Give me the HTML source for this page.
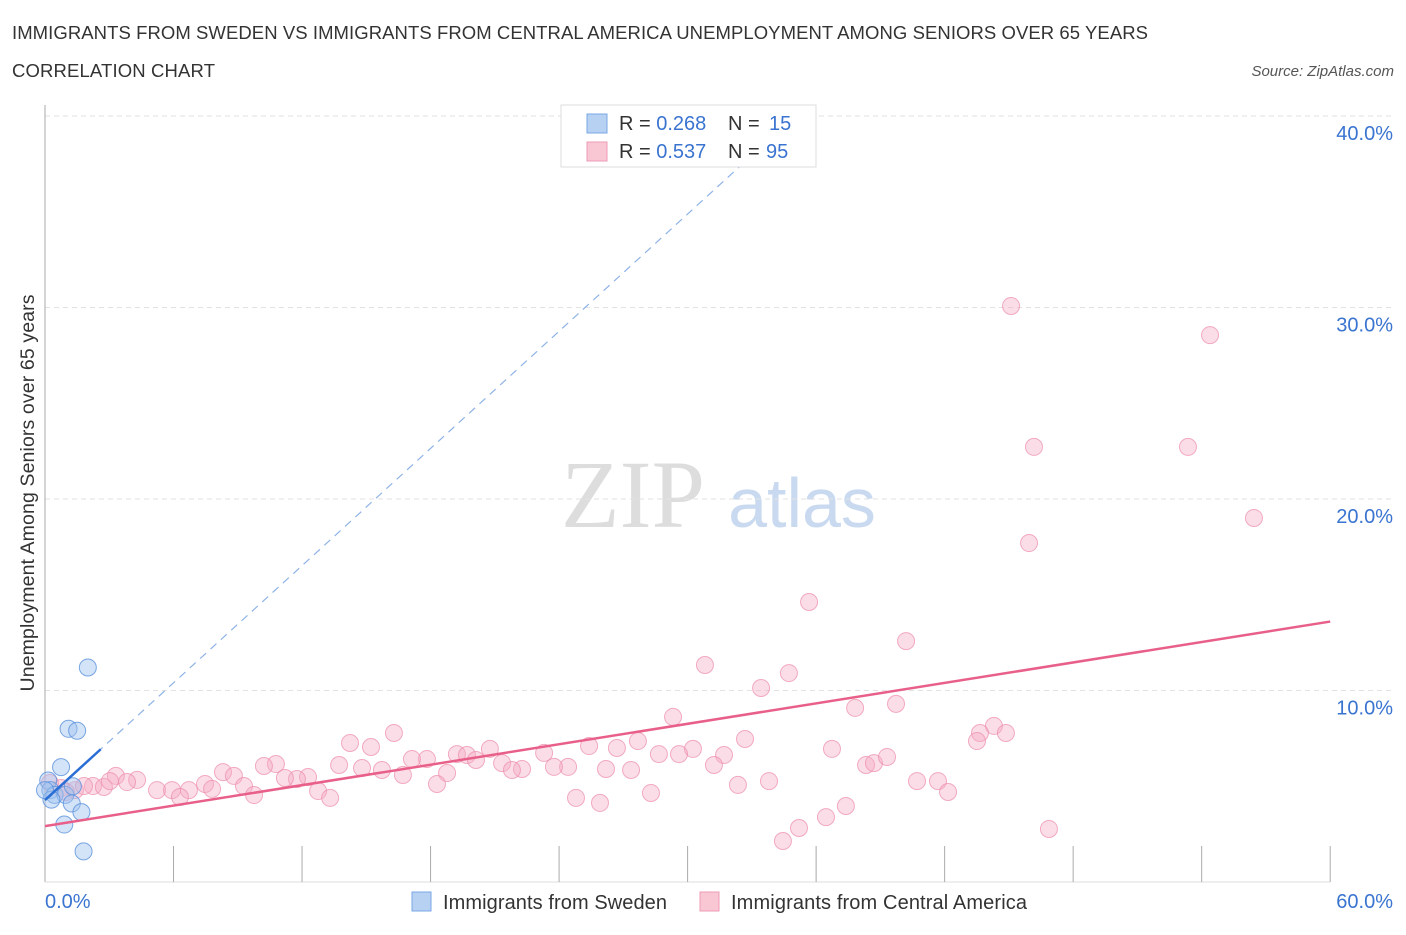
<!DOCTYPE html>
<html><head><meta charset="utf-8"><style>
body{margin:0;background:#fff;font-family:"Liberation Sans",sans-serif}
</style></head><body>
<svg id="c" width="1406" height="930" xmlns="http://www.w3.org/2000/svg">
<text x="12" y="39" font-size="18.5" fill="#333" textLength="1136">IMMIGRANTS FROM SWEDEN VS IMMIGRANTS FROM CENTRAL AMERICA UNEMPLOYMENT AMONG SENIORS OVER 65 YEARS</text>
<text x="12" y="77" font-size="18.5" fill="#333" textLength="203">CORRELATION CHART</text>
<text x="1394" y="76" font-size="15" fill="#555" font-style="italic" text-anchor="end">Source: ZipAtlas.com</text>
<text x="633" y="527" font-size="96" fill="#ddd" font-family="Liberation Serif,serif" text-anchor="middle">ZIP</text>
<text x="802" y="527" font-size="70" fill="#c9daf0" text-anchor="middle">atlas</text>
<text transform="translate(34,493) rotate(-90)" font-size="19.5" fill="#333" text-anchor="middle" textLength="397">Unemployment Among Seniors over 65 years</text>
<g id="grid"></g><g id="marks"></g>
<g>
<rect x="561" y="105" width="255" height="62" fill="#fff" stroke="#ddd"/>
<rect x="587" y="114" width="20" height="19" fill="#b7d1f3" stroke="#7aa7e3"/>
<rect x="587" y="142" width="20" height="19" fill="#f9c6d4" stroke="#ee9bb4"/>
<text x="619" y="130" font-size="20" fill="#333">R = <tspan fill="#3a74d0">0.268</tspan><tspan x="728">N = </tspan><tspan x="769" fill="#3a74d0">15</tspan></text>
<text x="619" y="158" font-size="20" fill="#333">R = <tspan fill="#3a74d0">0.537</tspan><tspan x="728">N = </tspan><tspan x="766" fill="#3a74d0">95</tspan></text>
</g>
<g>
<rect x="412" y="892" width="19" height="19" fill="#b7d1f3" stroke="#7aa7e3"/>
<text x="443" y="909" font-size="20" fill="#333" textLength="224">Immigrants from Sweden</text>
<rect x="700" y="892" width="19" height="19" fill="#f9c6d4" stroke="#ee9bb4"/>
<text x="731" y="909" font-size="20" fill="#333" textLength="296">Immigrants from Central America</text>
</g>
</svg>
<script>
const xTicks=[0,60];
const yTicks=[10,20,30,40];
const swedenX=[2.0,1.1,1.5,0.75,0.15,0.25,0.45,0.95,1.3,0.3,1.25,1.7,0.9,1.8,0];
const swedenY=[11.2,8.0,7.9,6.0,5.3,4.8,4.55,4.55,5.0,4.3,4.1,3.65,3.0,1.6,4.8];
const camPx=[[1011,306],[1210,335],[1034,447],[1188,447],[1254,518],[1029,543],[809,602],[906,641],[705,665],[789,673],[761,688],[673,717],[855,708],[896,704],[994,726],[1006,733],[980,733],[977,741],[745,739],[394,733],[350,743],[371,747],[638,741],[617,748],[589,746],[544,753],[490,749],[457,754],[467,755],[476,760],[502,763],[427,759],[412,759],[276,764],[264,766],[223,772],[116,776],[832,749],[724,755],[693,749],[659,754],[679,754],[714,765],[631,770],[606,769],[568,767],[554,767],[522,769],[512,770],[447,773],[403,775],[382,770],[362,768],[339,765],[308,777],[297,779],[285,778],[234,776],[205,784],[137,780],[127,782],[93,786],[104,787],[157,790],[172,790],[189,790],[212,789],[244,786],[254,795],[318,791],[330,798],[180,797],[866,765],[874,763],[887,757],[769,781],[738,785],[917,781],[938,781],[948,792],[651,793],[437,784],[576,798],[600,803],[846,806],[826,817],[799,828],[783,841],[1049,829],[61,788],[75,790],[84,786],[50,783],[66,792],[110,781]];
const camX=camPx.map(p=>+((p[0]-45)/21.42).toFixed(2));
const camY=camPx.map(p=>+((882-p[1])/19.15).toFixed(2));
const swedenFit=[4.28,1.02];
const camFit=[2.92,0.178];
const X=v=>45+v*21.42, Y=v=>882-v*19.15;
const NS='http://www.w3.org/2000/svg';
function mk(t,a,p){const e=document.createElementNS(NS,t);for(const k in a)e.setAttribute(k,a[k]);p.appendChild(e);return e;}
const g=document.getElementById('grid'), m=document.getElementById('marks');
yTicks.forEach(v=>{
 const l=mk('line',{x1:45,x2:1395,y1:Y(v),y2:Y(v),stroke:'#e2e2e2','stroke-dasharray':'5,4'},g);
 
 
 const t=mk('text',{x:1393,y:Y(v)+24,'font-size':20,fill:'#3a74d0','text-anchor':'end'},g);t.textContent=v.toFixed(1)+'%';
 
 
});
mk('line',{x1:45,x2:45,y1:105,y2:882,stroke:'#aaa'},g);
mk('line',{x1:45,x2:1330,y1:882,y2:882,stroke:'#ddd'},g);
for(let i=1;i<=10;i++){mk('line',{x1:X(i*6),x2:X(i*6),y1:846,y2:882,stroke:'#aaa'},g);}
xTicks.forEach((v,i)=>{const t=mk('text',{x:i?1393:45,y:908,'font-size':20,fill:'#3a74d0','text-anchor':i?'end':'start'},g);t.textContent=v.toFixed(1)+'%';
 
 });
camX.forEach((x,i)=>{const c=mk('circle',{cx:X(x),cy:Y(camY[i]),r:8.5,fill:'rgba(246,170,195,0.4)',stroke:'rgba(236,140,170,0.7)','stroke-width':1},m);
 
 });
swedenX.forEach((x,i)=>{const c=mk('circle',{cx:X(x),cy:Y(swedenY[i]),r:8.5,fill:'rgba(160,196,240,0.45)',stroke:'rgba(90,145,220,0.8)','stroke-width':1},m);
 
 });
const cl=mk('line',{x1:X(0),y1:Y(camFit[0]),x2:X(60),y2:Y(camFit[0]+60*camFit[1]),stroke:'#e8608a','stroke-width':2.5},m);


const sd=mk('line',{x1:X(0),y1:Y(swedenFit[0]),x2:X(33),y2:Y(swedenFit[0]+33*swedenFit[1]),stroke:'#8fb3e6','stroke-width':1.2,'stroke-dasharray':'8,6'},m);


const sl=mk('line',{x1:X(0),y1:Y(swedenFit[0]),x2:X(2.6),y2:Y(swedenFit[0]+2.6*swedenFit[1]),stroke:'#2b6fd6','stroke-width':2.5},m);


</script>
</body></html>
